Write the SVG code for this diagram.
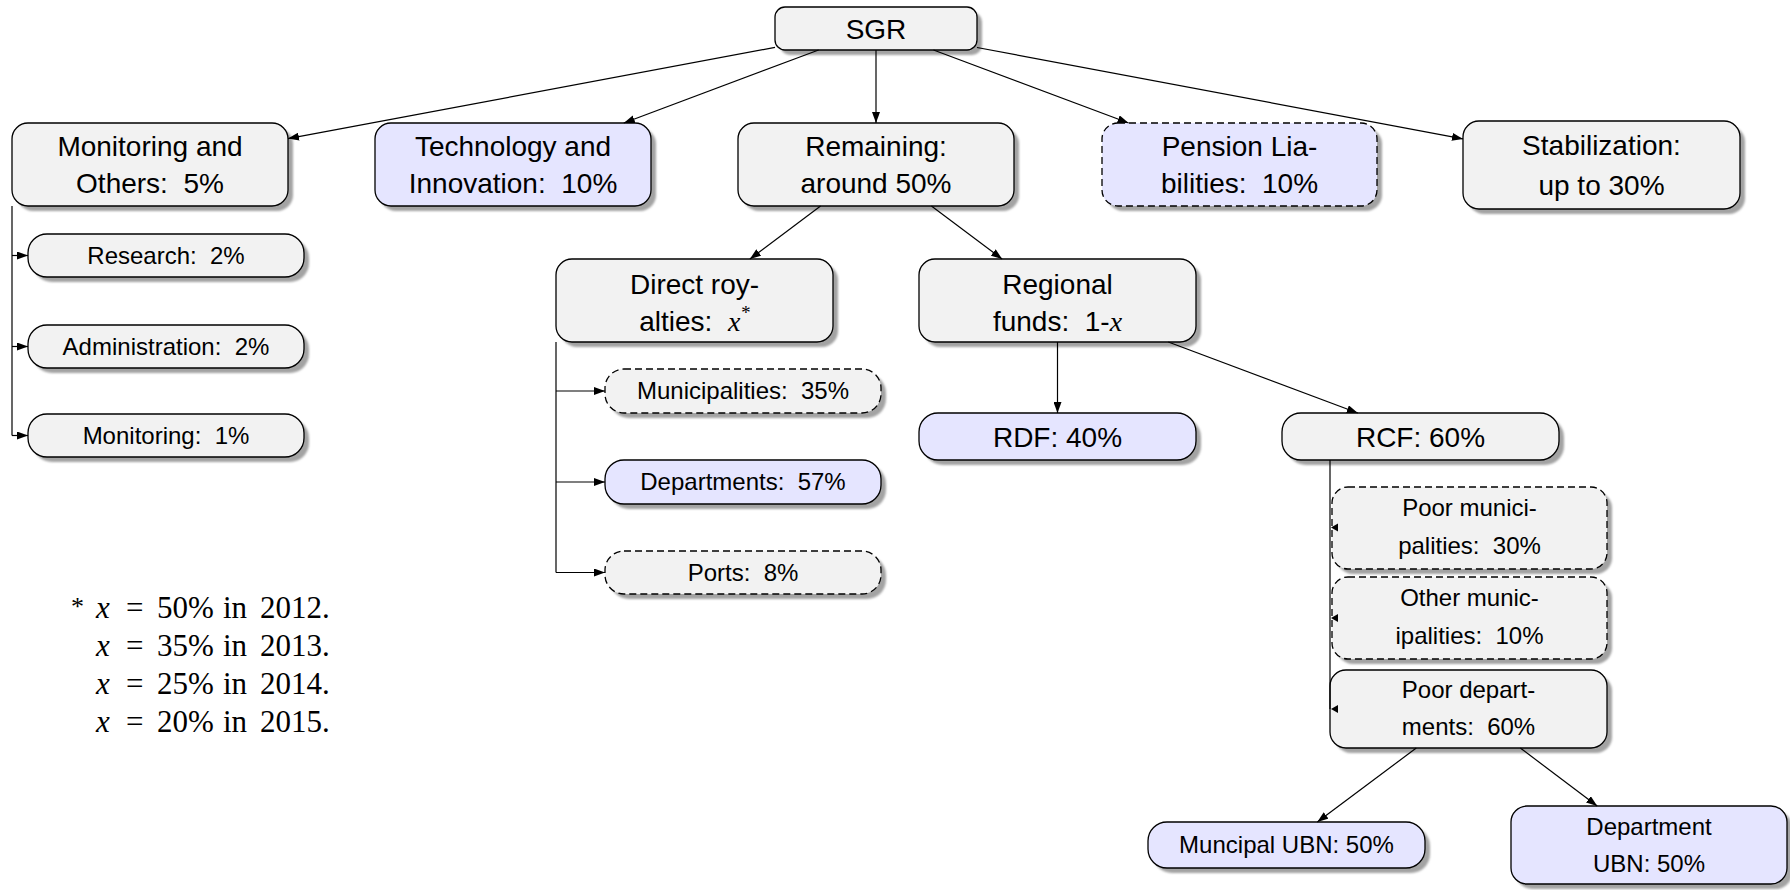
<svg xmlns="http://www.w3.org/2000/svg" width="1790" height="890" viewBox="0 0 1790 890">
<defs>
<filter id="blur" x="-10%" y="-10%" width="120%" height="120%"><feGaussianBlur stdDeviation="0.9"/></filter>
<marker id="ah" markerUnits="userSpaceOnUse" markerWidth="12" markerHeight="8" refX="11" refY="4" orient="auto"><path d="M0,0 L11,4 L0,8 z" fill="#000"/></marker>
</defs>
<style>
.sh{fill:#a3a3a3;filter:url(#blur)}
.g{fill:#f2f2f2;stroke:#000;stroke-width:1.3}
.b{fill:#e5e5ff;stroke:#000;stroke-width:1.3}
.d{stroke-dasharray:7 4}
.t{font-family:"Liberation Sans",Arial,sans-serif;font-size:28px;text-anchor:middle;fill:#000}
.s{font-family:"Liberation Sans",Arial,sans-serif;font-size:24px;text-anchor:middle;fill:#000}
.m{font-family:"Liberation Serif","Times New Roman",serif;font-style:italic}
.fn{font-family:"Liberation Serif","Times New Roman",serif;font-size:31px;fill:#000}
.c{fill:none;stroke:#000;stroke-width:1.2}
.ca{fill:none;stroke:#000;stroke-width:1.2;marker-end:url(#ah)}
</style>
<rect width="1790" height="890" fill="#fff"/>
<g id="sgr"><rect class="sh" x="780" y="12" width="202" height="43" rx="10"/><rect class="g" x="775" y="7" width="202" height="43" rx="10"/><text class="t" x="876" y="39">SGR</text></g>
<g id="monitoring-others"><rect class="sh" x="17" y="128" width="276" height="83" rx="16"/><rect class="g" x="12" y="123" width="276" height="83" rx="16"/><text class="t" x="150" y="156">Monitoring and</text><text class="t" x="150" y="193">Others:&#160; 5%</text></g>
<g id="technology"><rect class="sh" x="380" y="128" width="276" height="83" rx="16"/><rect class="b" x="375" y="123" width="276" height="83" rx="16"/><text class="t" x="513" y="156">Technology and</text><text class="t" x="513" y="193">Innovation:&#160; 10%</text></g>
<g id="remaining"><rect class="sh" x="743" y="128" width="276" height="83" rx="16"/><rect class="g" x="738" y="123" width="276" height="83" rx="16"/><text class="t" x="876" y="156">Remaining:</text><text class="t" x="876" y="193">around 50%</text></g>
<g id="pension"><rect class="sh" x="1107" y="128" width="275" height="83" rx="16"/><rect class="b d" x="1102" y="123" width="275" height="83" rx="16"/><text class="t" x="1239.5" y="156">Pension Lia-</text><text class="t" x="1239.5" y="193">bilities:&#160; 10%</text></g>
<g id="stabilization"><rect class="sh" x="1468" y="126" width="277" height="88" rx="16"/><rect class="g" x="1463" y="121" width="277" height="88" rx="16"/><text class="t" x="1601.5" y="155">Stabilization:</text><text class="t" x="1601.5" y="195">up to 30%</text></g>
<g id="research"><rect class="sh" x="33" y="239" width="276" height="43" rx="19"/><rect class="g" x="28" y="234" width="276" height="43" rx="19"/><text class="s" x="166" y="263.5">Research:&#160; 2%</text></g>
<g id="administration"><rect class="sh" x="33" y="330" width="276" height="43" rx="19"/><rect class="g" x="28" y="325" width="276" height="43" rx="19"/><text class="s" x="166" y="354.5">Administration:&#160; 2%</text></g>
<g id="monitoring"><rect class="sh" x="33" y="419" width="276" height="43" rx="19"/><rect class="g" x="28" y="414" width="276" height="43" rx="19"/><text class="s" x="166" y="443.5">Monitoring:&#160; 1%</text></g>
<g id="direct-royalties"><rect class="sh" x="561" y="264" width="277" height="83" rx="16"/><rect class="g" x="556" y="259" width="277" height="83" rx="16"/><text class="t" x="694.5" y="294">Direct roy-</text><text class="t" x="694.5" y="331">alties:&#160; <tspan class="m">x</tspan><tspan class="m" font-size="19" dy="-12">*</tspan></text></g>
<g id="regional-funds"><rect class="sh" x="924" y="264" width="277" height="83" rx="16"/><rect class="g" x="919" y="259" width="277" height="83" rx="16"/><text class="t" x="1057.5" y="294">Regional</text><text class="t" x="1057.5" y="331">funds:&#160; 1-<tspan class="m">x</tspan></text></g>
<g id="municipalities"><rect class="sh" x="610" y="374" width="276" height="44" rx="19"/><rect class="g d" x="605" y="369" width="276" height="44" rx="19"/><text class="s" x="743" y="399">Municipalities:&#160; 35%</text></g>
<g id="departments"><rect class="sh" x="610" y="465" width="276" height="44" rx="19"/><rect class="b" x="605" y="460" width="276" height="44" rx="19"/><text class="s" x="743" y="490">Departments:&#160; 57%</text></g>
<g id="ports"><rect class="sh" x="610" y="556" width="276" height="43" rx="19"/><rect class="g d" x="605" y="551" width="276" height="43" rx="19"/><text class="s" x="743" y="580.5">Ports:&#160; 8%</text></g>
<g id="rdf"><rect class="sh" x="924" y="418" width="277" height="47" rx="19"/><rect class="b" x="919" y="413" width="277" height="47" rx="19"/><text class="t" x="1057.5" y="447">RDF: 40%</text></g>
<g id="rcf"><rect class="sh" x="1287" y="418" width="277" height="47" rx="19"/><rect class="g" x="1282" y="413" width="277" height="47" rx="19"/><text class="t" x="1420.5" y="447">RCF: 60%</text></g>
<g id="poor-municipalities"><rect class="sh" x="1337" y="492" width="275" height="82" rx="16"/><rect class="g d" x="1332" y="487" width="275" height="82" rx="16"/><text class="s" x="1469.5" y="515.5">Poor munici-</text><text class="s" x="1469.5" y="553.5">palities:&#160; 30%</text></g>
<g id="other-municipalities"><rect class="sh" x="1337" y="582" width="275" height="82" rx="16"/><rect class="g d" x="1332" y="577" width="275" height="82" rx="16"/><text class="s" x="1469.5" y="606">Other munic-</text><text class="s" x="1469.5" y="643.5">ipalities:&#160; 10%</text></g>
<g id="poor-departments"><rect class="sh" x="1335" y="675" width="277" height="78" rx="16"/><rect class="g" x="1330" y="670" width="277" height="78" rx="16"/><text class="s" x="1468.5" y="697.5">Poor depart-</text><text class="s" x="1468.5" y="735">ments:&#160; 60%</text></g>
<g id="municipal-ubn"><rect class="sh" x="1153" y="827" width="277" height="46" rx="19"/><rect class="b" x="1148" y="822" width="277" height="46" rx="19"/><text class="s" x="1286.5" y="853">Muncipal UBN: 50%</text></g>
<g id="department-ubn"><rect class="sh" x="1516" y="811" width="276" height="78" rx="16"/><rect class="b" x="1511" y="806" width="276" height="78" rx="16"/><text class="s" x="1649" y="835">Department</text><text class="s" x="1649" y="872">UBN: 50%</text></g>
<g id="connectors">
<line class="ca" x1="775" y1="47.4" x2="288" y2="138.6"/>
<line class="ca" x1="818.6" y1="50" x2="623.8" y2="123"/>
<line class="ca" x1="876" y1="50" x2="876" y2="123"/>
<line class="ca" x1="933.5" y1="50" x2="1128.6" y2="123"/>
<line class="ca" x1="977" y1="47.5" x2="1463" y2="138.9"/>
<line class="ca" x1="820.6" y1="206" x2="749.9" y2="259"/>
<line class="ca" x1="931.4" y1="206" x2="1002.1" y2="259"/>
<line class="ca" x1="1057.5" y1="342" x2="1057.5" y2="413"/>
<line class="ca" x1="1168.3" y1="342" x2="1357.8" y2="413"/>
<line class="ca" x1="1416.3" y1="748" x2="1317.3" y2="822"/>
<line class="ca" x1="1520.3" y1="748" x2="1597.2" y2="806"/>
<path class="c" d="M12,206 V435.5"/>
<line class="ca" x1="12" y1="255.5" x2="28" y2="255.5"/>
<line class="ca" x1="12" y1="346.5" x2="28" y2="346.5"/>
<line class="ca" x1="12" y1="435.5" x2="28" y2="435.5"/>
<path class="c" d="M556,342 V572.5"/>
<line class="ca" x1="556" y1="391" x2="605" y2="391"/>
<line class="ca" x1="556" y1="482" x2="605" y2="482"/>
<line class="ca" x1="556" y1="572.5" x2="605" y2="572.5"/>
<path class="c" d="M1330,460 V709"/>
<path d="M1331,527.5 L1338,523.5 L1338,531.5 z"/>
<path d="M1331,618 L1338,614 L1338,622 z"/>
<path d="M1331,709 L1338,705 L1338,713 z"/>
</g>
<g id="footnote" class="fn">
<text x="71" y="615" font-size="26">*</text>
<text y="618"><tspan x="96" class="m">x</tspan><tspan x="126">=</tspan><tspan x="157">50%</tspan><tspan x="223">in</tspan><tspan x="260">2012.</tspan></text>
<text y="656"><tspan x="96" class="m">x</tspan><tspan x="126">=</tspan><tspan x="157">35%</tspan><tspan x="223">in</tspan><tspan x="260">2013.</tspan></text>
<text y="694"><tspan x="96" class="m">x</tspan><tspan x="126">=</tspan><tspan x="157">25%</tspan><tspan x="223">in</tspan><tspan x="260">2014.</tspan></text>
<text y="732"><tspan x="96" class="m">x</tspan><tspan x="126">=</tspan><tspan x="157">20%</tspan><tspan x="223">in</tspan><tspan x="260">2015.</tspan></text>
</g>
</svg>
